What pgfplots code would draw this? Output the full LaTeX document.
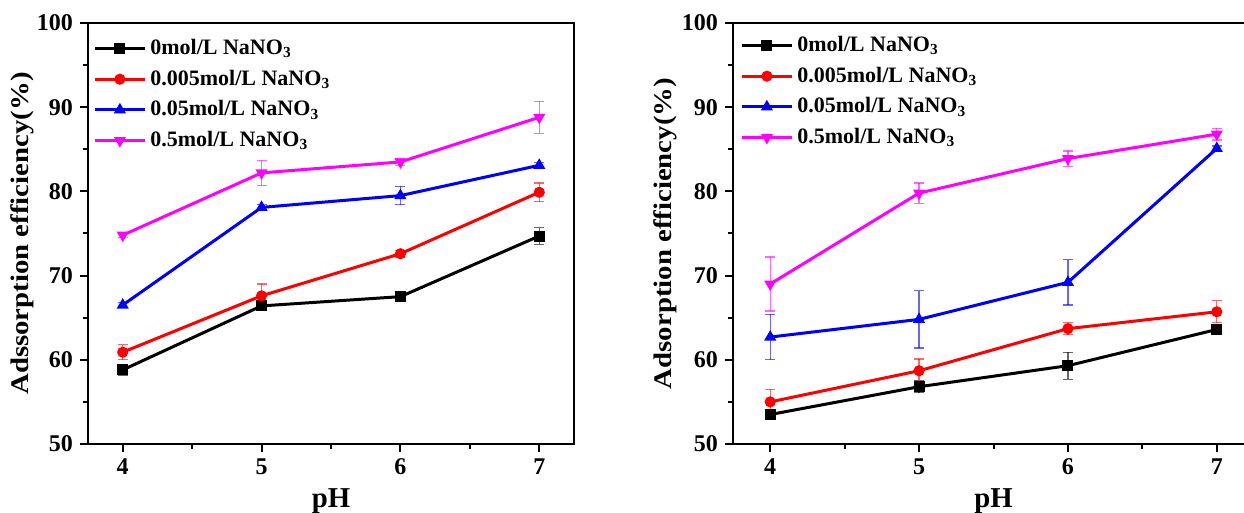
\documentclass[border=0pt]{standalone}
\usepackage{graphicx}
\usepackage{pgfplots}
\pgfplotsset{compat=1.18}
\usepackage{fontspec}
\setmainfont{Liberation Serif}
\definecolor{mag}{RGB}{255,0,255}
\pgfplotsset{
  mystyle/.style={
    scale only axis, height=210.5pt,
    xmin=3.75, ymin=50, ymax=100,
    xtick={4,5,6,7}, minor xtick={4.5,5.5,6.5},
    ytick={50,60,...,100}, minor ytick={55,65,...,95},
    xtick pos=bottom, ytick pos=left, tick align=outside,
    major tick length=4pt, minor tick length=2.5pt,
    axis line style={line width=1.2pt},
    every tick/.style={line width=1pt, black},
    ticklabel style={font=\fontsize{12}{14}\selectfont\bfseries},
    /pgf/number format/assume math mode=true,
    xlabel={pH},
    label style={font=\fontsize{14.4}{16}\selectfont\bfseries},
    legend style={draw=none, fill=none, at={(0,1)}, anchor=north west,
      font=\fontsize{11}{13}\selectfont\bfseries, row sep=2.2pt, cells={anchor=west}},
    legend image code/.code={\draw[mark repeat=2,mark phase=2] plot coordinates {(0pt,0pt) (12.5pt,0pt) (25pt,0pt)};},
    every axis plot/.append style={line width=1.5pt, mark size=2pt,
      error bars/y dir=both, error bars/y explicit,
      error bars/error bar style={line width=0.6pt, opacity=0.6},
      error bars/error mark options={rotate=90, mark size=2.5pt, line width=0.6pt}},
  }
}
\begin{document}
\begin{tikzpicture}
\path[use as bounding box] (0,0) rectangle (622pt,256.5pt);
\clip (0,0) rectangle (622pt,256.5pt);
\begin{axis}[mystyle, at={(44pt,34.5pt)}, anchor=south west, width=243pt, xmax=7.25,
  ylabel={\scalebox{1}[0.88]{Adssorption efficiency(\%)}},
  ylabel style={at={(axis description cs:-0.1358,0.5)}, anchor=center},
  legend style={xshift=-0.5pt, yshift=-4pt}]
\addplot[color=black, mark=square*] coordinates {(4,58.8) +- (0,0.6) (5,66.4) +- (0,0.3) (6,67.5) +- (0,0.3) (7,74.7) +- (0,1.0)};
\addlegendentry{0mol/L NaNO$_\mathbf{3}$}
\addplot[color=red, mark=*] coordinates {(4,60.9) +- (0,0.9) (5,67.6) +- (0,1.4) (6,72.6) +- (0,0.4) (7,79.9) +- (0,1.1)};
\addlegendentry{0.005mol/L NaNO$_\mathbf{3}$}
\addplot[color=blue, mark=triangle*] coordinates {(4,66.5) +- (0,0.3) (5,78.1) +- (0,0.3) (6,79.5) +- (0,1.1) (7,83.1) +- (0,0.3)};
\addlegendentry{0.05mol/L NaNO$_\mathbf{3}$}
\addplot[color=mag, mark=triangle*, mark options={rotate=180}] coordinates {(4,74.8) +- (0,0.3) (5,82.2) +- (0,1.5) (6,83.5) +- (0,0.4) (7,88.8) +- (0,1.9)};
\addlegendentry{0.5mol/L NaNO$_\mathbf{3}$}
\end{axis}
\begin{axis}[mystyle, at={(366.5pt,34.5pt)}, anchor=south west, width=260.5pt, xmax=7.25,
  ylabel={\scalebox{1}[0.88]{Adsorption efficiency(\%)}},
  ylabel style={at={(axis description cs:-0.1305,0.5)}, anchor=center},
  legend style={xshift=0.5pt, yshift=-2.5pt}]
\addplot[color=black, mark=square*] coordinates {(4,53.5) +- (0,0.3) (5,56.8) +- (0,0.7) (6,59.3) +- (0,1.6) (7,63.6) +- (0,0.3)};
\addlegendentry{0mol/L NaNO$_\mathbf{3}$}
\addplot[color=red, mark=*] coordinates {(4,55.0) +- (0,1.5) (5,58.7) +- (0,1.4) (6,63.7) +- (0,0.7) (7,65.7) +- (0,1.3)};
\addlegendentry{0.005mol/L NaNO$_\mathbf{3}$}
\addplot[color=blue, mark=triangle*] coordinates {(4,62.7) +- (0,2.7) (5,64.8) +- (0,3.4) (6,69.2) +- (0,2.7) (7,85.1) +- (0,0.3)};
\addlegendentry{0.05mol/L NaNO$_\mathbf{3}$}
\addplot[color=mag, mark=triangle*, mark options={rotate=180}] coordinates {(4,69.0) +- (0,3.2) (5,79.8) +- (0,1.2) (6,83.9) +- (0,0.9) (7,86.8) +- (0,0.7)};
\addlegendentry{0.5mol/L NaNO$_\mathbf{3}$}
\end{axis}
\end{tikzpicture}
\end{document}
